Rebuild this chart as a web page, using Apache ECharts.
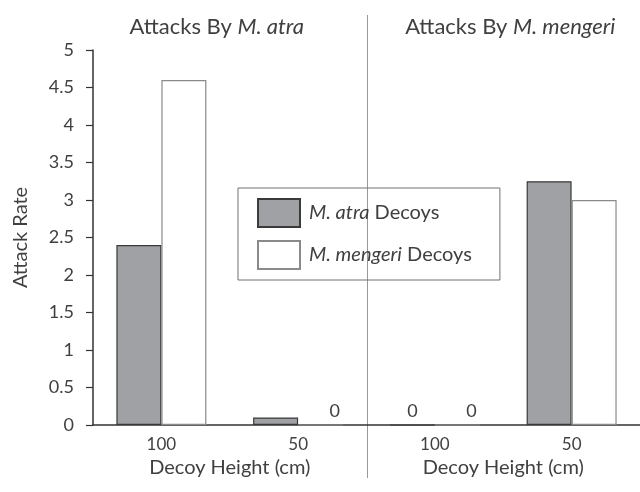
<!DOCTYPE html>
<html>
<head>
<meta charset="utf-8">
<script src="https://cdn.jsdelivr.net/npm/echarts@6/dist/echarts.min.js"></script>
<style>html,body{margin:0;padding:0;background:#fff}#c{width:640px;height:492px}</style>
</head>
<body>
<div id="c"></div>
<script>
var categories = ['100', '50', '100', '50'];
var atraDecoys = [2.4, 0.1, 0, 3.25];
var mengeriDecoys = [4.6, 0, 0, 3.0];
var yTicks = [0, 0.5, 1, 1.5, 2, 2.5, 3, 3.5, 4, 4.5, 5];
var panelTitles = ['M. atra', 'M. mengeri'];
var panelAxisName = 'Decoy Height (cm)';

var FONT = 'Lato';
var TXT = '#404040';
var chart = echarts.init(document.getElementById('c'));

function zeroLabel(p) { return p.value === 0 ? '0' : ''; }

var titlePads = [[0, 26, 0, 0], [0, 0, 0, 14]];

var option = {
  animation: false,
  backgroundColor: '#fff',
  textStyle: { fontFamily: FONT },
  grid: { left: 93, right: -11, top: 50, bottom: 67 },
  legend: {
    orient: 'vertical',
    left: 238, top: 188,
    padding: [10, 28, 10, 19],
    itemWidth: 42, itemHeight: 28, itemGap: 12,
    borderColor: '#707070', borderWidth: 1,
    data: [{ name: 'atra', icon: 'rect' }, { name: 'mengeri', icon: 'rect' }],
    formatter: function (n) {
      return (n === 'atra' ? '{i|M. atra} Decoys' : '{i|M. mengeri} Decoys') + '{s|}';
    },
    textStyle: {
      fontFamily: FONT, fontSize: 20, color: TXT, padding: [0, 0, 0, 4],
      rich: {
        i: { fontFamily: FONT, fontSize: 20, fontStyle: 'italic', color: TXT },
        s: { width: 6 }
      }
    }
  },
  xAxis: [
    {
      type: 'category', data: categories, gridIndex: 0,
      axisLine: { lineStyle: { color: '#333', width: 1.5 } },
      axisTick: { show: false },
      axisLabel: { fontFamily: FONT, fontSize: 17, color: TXT, margin: 11 },
      splitLine: { show: false }
    },
    {
      type: 'category', data: [panelAxisName, panelAxisName], gridIndex: 0,
      position: 'bottom',
      axisLine: { show: false }, axisTick: { show: false },
      axisLabel: { fontFamily: FONT, fontSize: 20, color: TXT, margin: 33 },
      splitLine: { show: false }
    },
    {
      type: 'category', gridIndex: 0,
      data: panelTitles.map(function (t, i) { return { value: t, textStyle: { padding: titlePads[i] } }; }),
      position: 'top',
      axisLine: { show: false }, axisTick: { show: false },
      axisLabel: {
        margin: 12,
        formatter: function (v) { return '{n|Attacks By }{i|' + v + '}'; },
        rich: {
          n: { fontFamily: FONT, fontSize: 22, color: TXT },
          i: { fontFamily: FONT, fontSize: 22, color: TXT, fontStyle: 'italic' }
        }
      },
      splitLine: { show: false }
    }
  ],
  yAxis: {
    type: 'value', min: yTicks[0], max: yTicks[yTicks.length - 1], interval: 0.5,
    name: 'Attack Rate', nameLocation: 'middle', nameRotate: 90, nameGap: 62,
    nameTextStyle: { fontFamily: FONT, fontSize: 20, color: TXT },
    axisLine: { show: true, lineStyle: { color: '#333', width: 1.5 } },
    axisTick: { show: true, length: 7, lineStyle: { color: '#333', width: 1.2 } },
    axisLabel: { fontFamily: FONT, fontSize: 18, color: TXT, margin: 19 },
    splitLine: { show: false }
  },
  series: [
    {
      name: 'atra', type: 'bar', xAxisIndex: 0, data: atraDecoys,
      barWidth: 45, barGap: '0%',
      itemStyle: { color: '#a0a1a4', borderColor: '#3a3a3a', borderWidth: 1.2 },
      label: { show: true, position: 'top', formatter: zeroLabel, fontFamily: FONT, fontSize: 18, color: TXT, distance: 4 }
    },
    {
      name: 'mengeri', type: 'bar', xAxisIndex: 0, data: mengeriDecoys,
      barWidth: 45, barGap: '0%',
      itemStyle: { color: '#ffffff', borderColor: '#8a8a8a', borderWidth: 1.2 },
      label: { show: true, position: 'top', formatter: zeroLabel, fontFamily: FONT, fontSize: 18, color: TXT, distance: 4, offset: [14, 0] }
    }
  ]
};
chart.setOption(option);

// separator between the two panels, placed from the axis scale
var x1 = chart.convertToPixel({ xAxisIndex: 0 }, 1);
var x2 = chart.convertToPixel({ xAxisIndex: 0 }, 2);
var sx = Math.round((x1 + x2) / 2) + 0.5;
chart.setOption({
  graphic: [{
    type: 'line', z: 0,
    shape: { x1: sx, y1: 15, x2: sx, y2: 478 },
    style: { stroke: '#999', lineWidth: 1 }
  }]
});
</script>
</body>
</html>
